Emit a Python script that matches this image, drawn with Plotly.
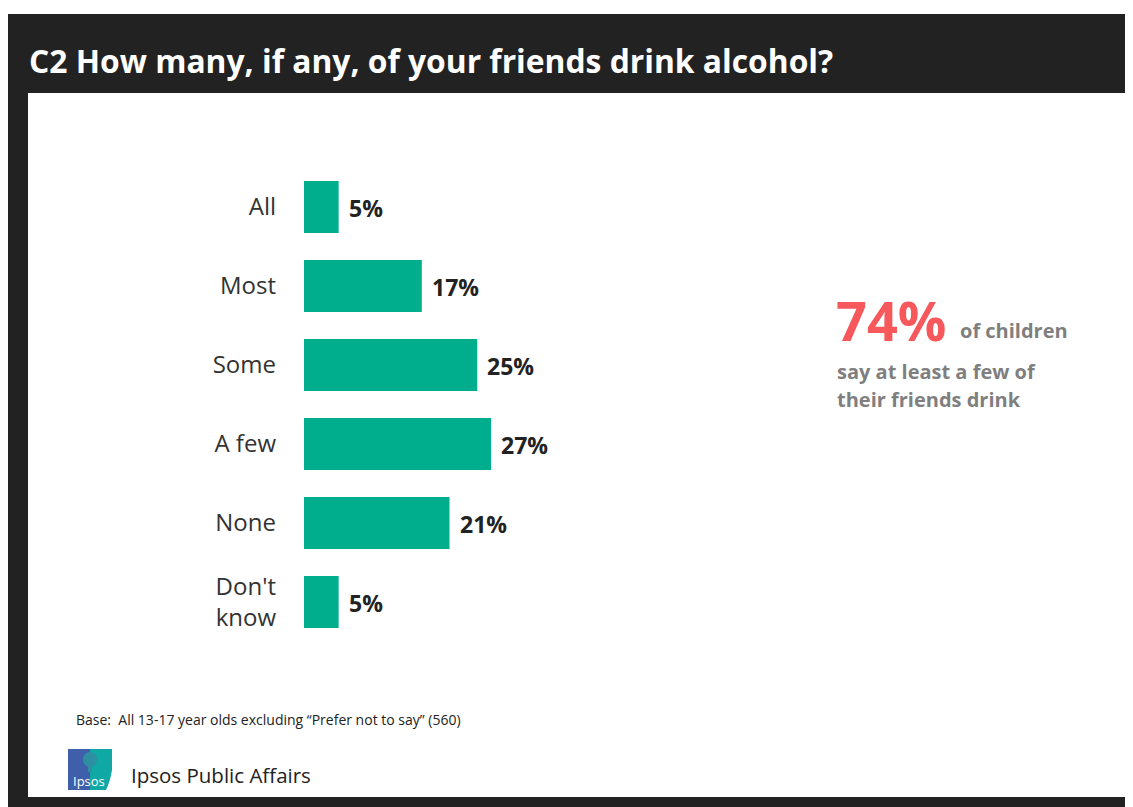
import plotly.graph_objects as go

W, H = 1133, 807
OFF = 8  # page body margin

categories = ["All", "Most", "Some", "A few", "None", "Don't<br>know"]
values = [5, 17, 25, 27, 21, 5]
value_labels = ["5%", "17%", "25%", "27%", "21%", "5%"]

title_text = "C2 How many, if any, of your friends drink alcohol?"
callout_big = "74%"
callout_lines = ["of children", "say at least a few of", "their friends drink"]
base_text = "Base:  All 13-17 year olds excluding \u201cPrefer not to say\u201d (560)"
brand_text = "Ipsos Public Affairs"

FONT = "Open Sans"
BAR = "#00AE8E"
DARK = "#222222"


def px(x):
    return (x - OFF) / W


def py(y):
    return 1 - (y - OFF) / H


fig = go.Figure()
fig.add_trace(go.Bar(
    x=values, y=categories, orientation="h",
    marker=dict(color=BAR, line=dict(width=0)),
    width=0.66,
    hoverinfo="skip",
))

annotations = []
for cat, v, lab in zip(categories, values, value_labels):
    annotations.append(dict(
        x=v, y=cat, xref="x", yref="y", text=f"<b>{lab}</b>",
        xanchor="left", yanchor="middle", xshift=8, yshift=-1, showarrow=False,
        font=dict(family=FONT, size=23, color=DARK)))

shapes = [
    dict(type="rect", xref="paper", yref="paper", x0=px(8), x1=px(1145), y0=py(815), y1=py(14),
         fillcolor=DARK, line=dict(width=0), layer="below"),
    dict(type="rect", xref="paper", yref="paper", x0=px(28), x1=px(1125), y0=py(797), y1=py(93),
         fillcolor="white", line=dict(width=0), layer="below"),
    # logo
    dict(type="rect", xref="paper", yref="paper", x0=px(68), x1=px(90), y0=py(790), y1=py(749),
         fillcolor="#3F5FAA", line=dict(width=0), layer="above"),
    dict(type="path", xref="paper", yref="paper",
         path=(f"M {px(90)} {py(749)} L {px(112)} {py(749)} L {px(112)} {py(770)} "
               f"Q {px(110)} {py(782)} {px(106)} {py(790)} L {px(90)} {py(790)} Z"),
         fillcolor="#10A8A4", line=dict(width=0), layer="above"),
    dict(type="circle", xref="paper", yref="paper", x0=px(83), x1=px(97), y0=py(767), y1=py(752),
         fillcolor="#2E8FA3", line=dict(width=0), layer="above"),
    dict(type="rect", xref="paper", yref="paper", x0=px(88), x1=px(92), y0=py(772), y1=py(765),
         fillcolor="#2E8FA3", line=dict(width=0), layer="above"),
]

annotations += [
    dict(text=f"<b>{title_text}</b>", x=px(27), y=py(61), xref="paper", yref="paper",
         xanchor="left", yanchor="middle", showarrow=False,
         font=dict(family=FONT, size=31.8, color="white")),
    dict(text=f"<b>{callout_big}</b>", x=px(834), y=py(320), xref="paper", yref="paper",
         xanchor="left", yanchor="middle", showarrow=False,
         font=dict(family=FONT, size=54, color="#F6585B")),
    dict(text=f"<b>{callout_lines[0]}</b>", x=px(958), y=py(331), xref="paper", yref="paper",
         xanchor="left", yanchor="middle", showarrow=False,
         font=dict(family=FONT, size=20, color="#7F7F7F")),
    dict(text=f"<b>{callout_lines[1]}</b>", x=px(835), y=py(371), xref="paper", yref="paper",
         xanchor="left", yanchor="middle", showarrow=False,
         font=dict(family=FONT, size=20, color="#7F7F7F")),
    dict(text=f"<b>{callout_lines[2]}</b>", x=px(835), y=py(399), xref="paper", yref="paper",
         xanchor="left", yanchor="middle", showarrow=False,
         font=dict(family=FONT, size=20, color="#7F7F7F")),
    dict(text=base_text, x=px(74), y=py(719), xref="paper", yref="paper",
         xanchor="left", yanchor="middle", showarrow=False,
         font=dict(family=FONT, size=14, color=DARK)),
    dict(text=brand_text, x=px(129), y=py(775), xref="paper", yref="paper",
         xanchor="left", yanchor="middle", showarrow=False,
         font=dict(family=FONT, size=20.5, color=DARK)),
    dict(text="Ipsos", x=px(89), y=py(781), xref="paper", yref="paper",
         xanchor="center", yanchor="middle", showarrow=False,
         font=dict(family=FONT, size=13, color="white")),
]

fig.update_layout(
    width=W, height=H, autosize=False,
    margin=dict(l=0, r=0, t=0, b=0),
    paper_bgcolor="white", plot_bgcolor="rgba(0,0,0,0)",
    showlegend=False,
    shapes=shapes, annotations=annotations,
    xaxis=dict(domain=[px(304), px(304 + 6.93 * 40)], range=[0, 40],
               visible=False, fixedrange=True),
    yaxis=dict(domain=[py(641.5), py(167.5)], range=[5.5, -0.5],
               showgrid=False, zeroline=False, showline=False, ticks="",
               ticklabelstandoff=27,
               tickfont=dict(family=FONT, size=24, color="#333333"), fixedrange=True),
    font=dict(family=FONT),
)

fig.write_html("out.html", config={"displayModeBar": False})
